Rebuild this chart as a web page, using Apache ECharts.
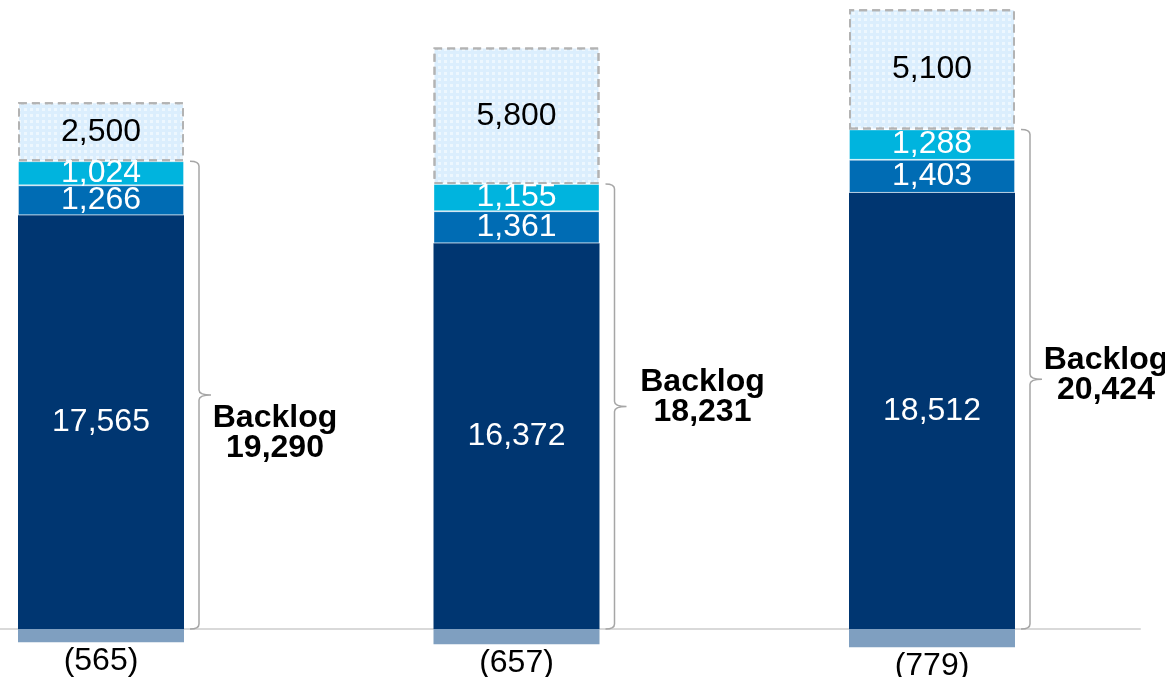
<!DOCTYPE html>
<html>
<head>
<meta charset="utf-8">
<style>
html,body{margin:0;padding:0;background:#fff;}
#c{width:1165px;height:677px;}
</style>
<script src="https://cdn.jsdelivr.net/npm/echarts@6/dist/echarts.min.js"></script>
</head>
<body>
<div id="c"></div>
<script>
// ---- data ----
const categories = ['A', 'B', 'C'];            // three periods (unlabelled in the source)
const coreValues = [17565, 16372, 18512];      // dark navy
const midValues = [1266, 1361, 1403];          // medium blue
const topValues = [1024, 1155, 1288];          // cyan
const pipelineValues = [2500, 5800, 5100];     // hatched dashed box
const negativeValues = [-565, -657, -779];     // grey-blue below baseline
const backlogTotals = [19290, 18231, 20424];   // brace labels

// ---- presentation ----
const labelDx = [76, 88, 76];
const labelDy = [38, -9, -4];
const FONT = '"Liberation Sans", Arial, sans-serif';
const fmt = v => Math.abs(v).toLocaleString('en-US');
const Y_MIN = -2000, Y_MAX = 26700;

const braceTops = categories.map((c, i) => coreValues[i] + midValues[i] + topValues[i]);

const chart = echarts.init(document.getElementById('c'));

const segLabel = (color) => ({
  show: true, position: 'inside', color: color, fontSize: 32,
  fontFamily: FONT, formatter: p => fmt(p.value)
});

const BAR_W = 166;

chart.setOption({
  animation: false,
  grid: [
    { left: 101, right: 233, top: 0, bottom: 1 },
    { left: 0, right: 25, top: 0, bottom: 1 }
  ],
  xAxis: [
    {
      gridIndex: 0, type: 'category', data: categories, boundaryGap: false,
      axisLine: { show: false }, axisTick: { show: false }, axisLabel: { show: false }, splitLine: { show: false }
    },
    {
      gridIndex: 1, type: 'value', min: 0, max: 1,
      axisLine: { show: true, onZero: true, lineStyle: { color: '#d9d9d9', width: 2 } },
      axisTick: { show: false }, axisLabel: { show: false }, splitLine: { show: false }
    }
  ],
  yAxis: [
    { gridIndex: 0, type: 'value', min: Y_MIN, max: Y_MAX, show: false, splitLine: { show: false } },
    { gridIndex: 1, type: 'value', min: Y_MIN, max: Y_MAX, show: false, splitLine: { show: false } }
  ],
  series: [
    {
      name: 'core', type: 'bar', stack: 's', barWidth: BAR_W, data: coreValues,
      itemStyle: { color: '#003671' }, label: segLabel('#fff')
    },
    {
      name: 'mid', type: 'bar', stack: 's', barWidth: BAR_W, data: midValues,
      itemStyle: { color: '#006cb4', borderColor: 'rgba(255,255,255,0.35)', borderWidth: 1 },
      label: segLabel('#fff')
    },
    {
      name: 'top', type: 'bar', stack: 's', barWidth: BAR_W, data: topValues,
      itemStyle: { color: '#00b4de', borderColor: 'rgba(255,255,255,0.35)', borderWidth: 1 },
      label: segLabel('#fff')
    },
    {
      name: 'pipeline', type: 'bar', stack: 's', barWidth: BAR_W, data: pipelineValues,
      itemStyle: {
        color: '#dbeefd', borderColor: '#b3b3b3', borderWidth: 2, borderType: [8, 5],
        decal: { symbol: 'rect', symbolSize: 1, color: 'rgba(255,255,255,0.5)', dashArrayX: [3, 3], dashArrayY: [3, 3] }
      },
      label: segLabel('#000')
    },
    {
      name: 'neg', type: 'bar', stack: 's', barWidth: BAR_W, data: negativeValues,
      itemStyle: { color: '#7f9fc0' },
      label: {
        show: true, position: 'bottom', distance: 3, color: '#000', fontSize: 32,
        fontFamily: FONT, formatter: p => '(' + fmt(p.value) + ')'
      }
    },
    {
      name: 'brace', type: 'custom', z: 5, clip: false,
      data: braceTops.map((v, i) => [i, v]),
      renderItem: (params, api) => {
        const i = params.dataIndex;
        const pTop = api.coord([api.value(0), api.value(1)]);
        const pBot = api.coord([api.value(0), 0]);
        const x = pTop[0] + BAR_W / 2 + 15;
        const yT = pTop[1], yB = pBot[1], yM = (yT + yB) / 2;
        const r = 5;
        const d = `M ${x - 9} ${yT} Q ${x} ${yT} ${x} ${yT + r} L ${x} ${yM - r} Q ${x} ${yM} ${x + 12} ${yM} ` +
                  `M ${x + 12} ${yM} Q ${x} ${yM} ${x} ${yM + r} L ${x} ${yB - r} Q ${x} ${yB} ${x - 9} ${yB}`;
        return {
          type: 'group',
          children: [
            { type: 'path', shape: { pathData: d }, style: { fill: null, stroke: '#a6a6a6', lineWidth: 1.5 } },
            {
              type: 'text',
              x: x + labelDx[i], y: yM + labelDy[i],
              style: {
                text: 'Backlog\n' + fmt(backlogTotals[i]),
                fill: '#000', font: 'bold 32px ' + FONT,
                align: 'center', verticalAlign: 'middle', lineHeight: 30
              }
            }
          ]
        };
      }
    }
  ]
});
</script>
</body>
</html>
